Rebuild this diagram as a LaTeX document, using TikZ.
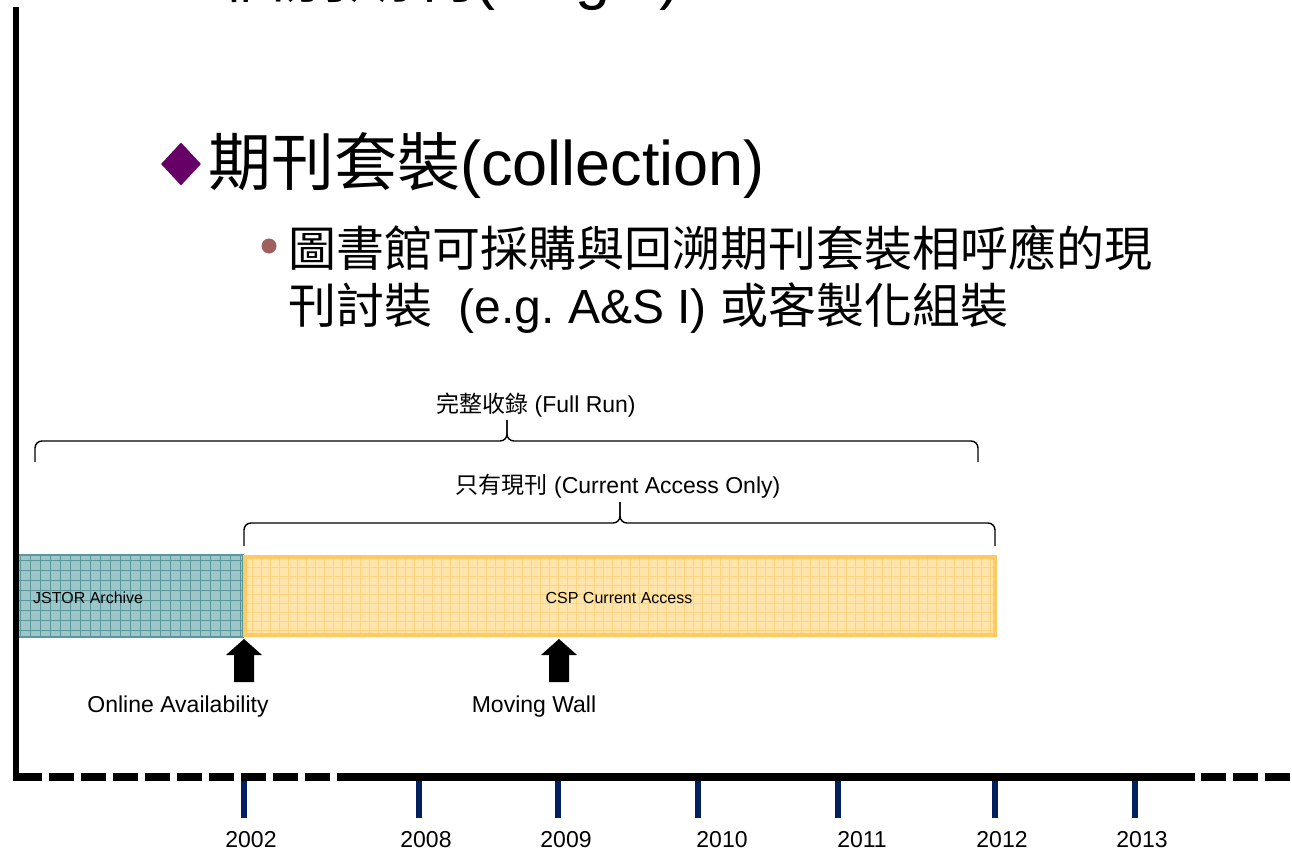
\documentclass[tikz,border=0pt]{standalone}
\usepackage{fontspec}
\setmainfont{Liberation Sans}
\newfontfamily\cjk{Noto Sans CJK TC}
\usetikzlibrary{shapes.geometric}

\definecolor{diapurple}{RGB}{102,0,102}
\definecolor{dotred}{RGB}{160,96,96}
\definecolor{ticknavy}{RGB}{0,32,96}
\definecolor{tealfill}{RGB}{158,198,200}
\definecolor{tealline}{RGB}{88,152,156}
\definecolor{orangefill}{RGB}{255,229,172}
\definecolor{orangeline}{RGB}{255,212,125}
\definecolor{orangeedge}{RGB}{255,202,98}

\begin{document}
\begin{tikzpicture}[x=1pt,y=-1pt,
    txt/.style={inner sep=0pt,anchor=base},
    huge txt/.style={txt,anchor=base west,font=\fontsize{63}{70}\selectfont},
    mid txt/.style={txt,anchor=base west,font=\fontsize{48}{56}\selectfont},
    small txt/.style={txt,font=\fontsize{23}{27}\selectfont},
    tiny txt/.style={txt,font=\fontsize{16}{19}\selectfont},
    bracket/.style={line width=1.4pt,rounded corners=7pt},
    axis line/.style={line width=8pt},
    tickmark/.style={line width=6pt,ticknavy}]
    \useasboundingbox (0,0) rectangle (1292,851);

    % heading lines (the first one is cut off by the page)
    \node[huge txt] (single) at (222,-2) {{\cjk 個別期刊}(single)};
    \node[diamond,fill=diapurple,inner sep=0pt,minimum width=40pt,minimum height=43pt] (dia) at (181,164) {};
    \node[huge txt] (coll) at (208,185) {{\cjk 期刊套裝}(collection)};
    \node[circle,fill=dotred,inner sep=0pt,minimum size=15pt] (dot) at (269,246) {};
    \node[mid txt] (sub1) at (288,266) {\cjk 圖書館可採購與回溯期刊套裝相呼應的現};
    \node[mid txt] (sub2) at (288,323) {{\cjk 刊討裝}\ \ (e.g.\ A\&S I) {\cjk 或客製化組裝}};

    % braces
    \coordinate (fr-l) at (35,462);
    \coordinate (fr-r) at (978,462);
    \coordinate (fr-tip) at (507,420);
    \draw[bracket] (fr-l) -- (35,441) -- (507,441) -- (fr-tip);
    \draw[bracket] (fr-r) -- (978,441) -- (507,441) -- (fr-tip);
    \node[small txt] (fullrun) at (536,412) {{\cjk 完整收錄} (Full Run)};
    \coordinate (co-l) at (244,546);
    \coordinate (co-r) at (995,546);
    \coordinate (co-tip) at (620,502);
    \draw[bracket] (co-l) -- (244,523) -- (620,523) -- (co-tip);
    \draw[bracket] (co-r) -- (995,523) -- (620,523) -- (co-tip);
    \node[small txt] (curonly) at (618,493) {{\cjk 只有現刊} (Current Access Only)};

    % bars
    \fill[tealfill] (16,555) rectangle (243,637);
    \draw[tealline,line width=0.8pt,step=10pt] (16,555) grid (243,637);
    \draw[tealline,line width=1.2pt] (16,555) rectangle (243,637);
    \fill[orangefill] (243,555) rectangle (997,637);
    \draw[orangeline,line width=0.8pt,step=9pt] (243,555) grid (997,637);
    \draw[orangeedge,line width=4pt] (245,557) rectangle (995,635);
    \node[tiny txt,anchor=base west] (jstor) at (33,603) {JSTOR Archive};
    \node[tiny txt] (csp) at (619,603) {CSP Current Access};

    % block arrows
    \coordinate (oa) at (244,639);
    \coordinate (mw) at (559,639);
    \foreach \a in {oa,mw}
        \fill (\a) -- ++(18,16) -- ++(-8,0) -- ++(0,27) -- ++(-20,0) -- ++(0,-27) -- ++(-8,0) -- cycle;
    \node[small txt] (online) at (178,712) {Online Availability};
    \node[small txt] (wall) at (534,712) {Moving Wall};

    % axes
    \draw[line width=6pt] (16,7) -- (16,781);
    \draw[axis line,dash pattern=on 25pt off 7pt] (17,777) -- (1292,777);
    \draw[axis line] (345,777) -- (1195,777);
    \foreach \x/\yr/\lx in {244/2002/251,419/2008/426,558/2009/566,698/2010/722,838/2011/862,995/2012/1002,1135/2013/1142}{
        \draw[tickmark] (\x,781) -- (\x,818);
        \node[small txt] (y\yr) at (\lx,847) {\yr};
    }
\end{tikzpicture}
\end{document}
